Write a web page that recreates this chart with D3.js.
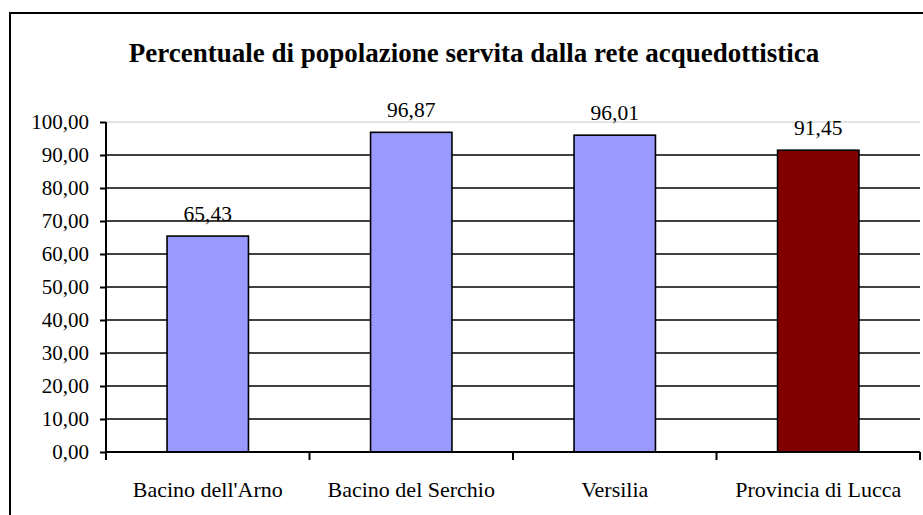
<!DOCTYPE html>
<html>
<head>
<meta charset="utf-8">
<script src="https://cdn.jsdelivr.net/npm/d3@7"></script>
<style>
  html, body { margin: 0; padding: 0; background: #fff; }
  svg { display: block; }
</style>
</head>
<body>
<div id="chart"></div>
<script>
// data
const categories = ["Bacino dell'Arno", "Bacino del Serchio", "Versilia", "Provincia di Lucca"];
const values = [65.43, 96.87, 96.01, 91.45];
const barColors = ['#9999FF', '#9999FF', '#9999FF', '#800000'];
const yTicks = [0, 10, 20, 30, 40, 50, 60, 70, 80, 90, 100];
const title = 'Percentuale di popolazione servita dalla rete acquedottistica';

const FONT = '"Liberation Serif", "Times New Roman", serif';
const fmt = v => v.toFixed(2).replace('.', ',');

const width = 923, height = 515;
const margin = { top: 122, right: 3, bottom: 63, left: 106 };
const innerW = width - margin.left - margin.right;
const innerH = height - margin.top - margin.bottom;

const svg = d3.select('#chart').append('svg')
  .attr('width', width)
  .attr('height', height)
  .attr('font-family', FONT);

// outer frame (cut by right/bottom edge)
svg.append('rect')
  .attr('x', 10).attr('y', 13)
  .attr('width', 930).attr('height', 520)
  .attr('fill', 'none')
  .attr('stroke', '#000')
  .attr('stroke-width', 2);

svg.append('text')
  .attr('x', 474).attr('y', 62)
  .attr('text-anchor', 'middle')
  .attr('font-family', FONT)
  .attr('font-size', 27)
  .attr('font-weight', 'bold')
  .text(title);

const g = svg.append('g')
  .attr('transform', `translate(${margin.left},${margin.top})`);

const x = d3.scaleBand().domain(categories).range([0, innerW]).paddingInner(0.6).paddingOuter(0.3);
const xCat = d3.scaleBand().domain(categories).range([0, innerW]);
const y = d3.scaleLinear().domain([0, 100]).range([innerH, 0]);

// gridlines
g.append('g')
  .selectAll('line')
  .data(yTicks.filter(d => d > 0))
  .join('line')
  .attr('x1', 0).attr('x2', innerW)
  .attr('y1', d => y(d)).attr('y2', d => y(d))
  .attr('stroke', d => d === 100 ? '#c8c8c8' : '#000')
  .attr('stroke-width', d => d === 100 ? 1 : 1.6);

// bars
g.selectAll('rect.bar')
  .data(values)
  .join('rect')
  .attr('class', 'bar')
  .attr('x', (d, i) => x(categories[i]))
  .attr('y', d => y(d))
  .attr('width', x.bandwidth())
  .attr('height', d => innerH - y(d))
  .attr('fill', (d, i) => barColors[i])
  .attr('stroke', '#000')
  .attr('stroke-width', 1.6);

// value labels
g.selectAll('text.val')
  .data(values)
  .join('text')
  .attr('class', 'val')
  .attr('x', (d, i) => x(categories[i]) + x.bandwidth() / 2)
  .attr('y', d => y(d) - 15)
  .attr('text-anchor', 'middle')
  .attr('font-family', FONT)
  .attr('font-size', 21.5)
  .text(fmt);

// y axis
const yAxis = g.append('g')
  .call(d3.axisLeft(y).tickValues(yTicks).tickSize(6).tickPadding(11).tickFormat(fmt));
yAxis.attr('font-family', FONT).attr('font-size', 21);
yAxis.select('.domain').attr('stroke-width', 2).attr('d', `M0,${innerH}V0`);
yAxis.selectAll('line').attr('stroke-width', 2);

// x axis with ticks at category boundaries
const xAxis = g.append('g').attr('transform', `translate(0,${innerH})`);
xAxis.append('line')
  .attr('x1', 0).attr('x2', innerW)
  .attr('stroke', '#000').attr('stroke-width', 2);
xAxis.selectAll('line.tick')
  .data(categories.map(c => xCat(c)).concat([innerW]))
  .join('line')
  .attr('class', 'tick')
  .attr('x1', d => d).attr('x2', d => d)
  .attr('y1', 0).attr('y2', 8)
  .attr('stroke', '#000').attr('stroke-width', 2);
xAxis.selectAll('text')
  .data(categories)
  .join('text')
  .attr('x', d => xCat(d) + xCat.bandwidth() / 2)
  .attr('y', 44.5)
  .attr('text-anchor', 'middle')
  .attr('font-family', FONT)
  .attr('font-size', 22)
  .text(d => d);
</script>
</body>
</html>
